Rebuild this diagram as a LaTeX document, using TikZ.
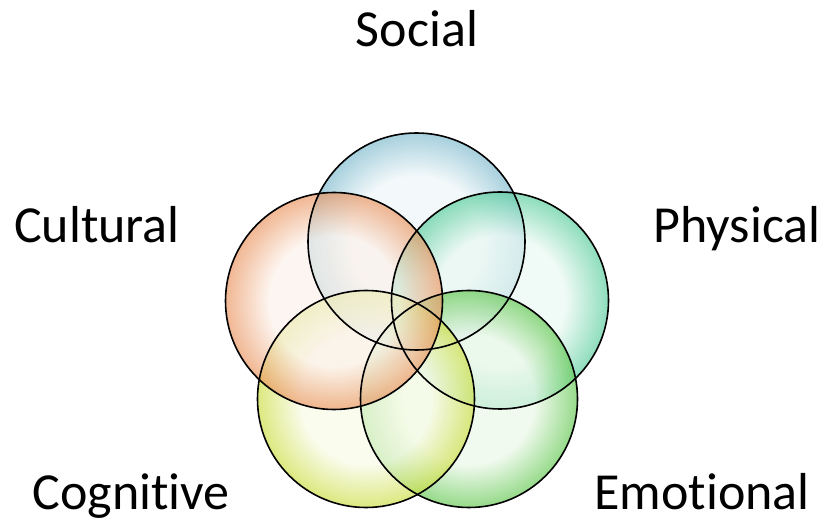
\documentclass[tikz,border=0pt]{standalone}
\usepackage{fontspec}
\setmainfont[Ligatures=NoCommon]{Carlito}

% colours of the five bubbles
\definecolor{socialcol}{HTML}{6FB2C8}
\definecolor{culturalcol}{HTML}{E8894E}
\definecolor{physicalcol}{HTML}{45C792}
\definecolor{cognitivecol}{HTML}{C6DA2E}
\definecolor{emotionalcol}{HTML}{52C23E}

% light centre, darker rim
\pgfdeclareradialshading[bubin,bubout]{bubble}{\pgfpoint{0bp}{0bp}}{%
  color(0bp)=(bubin); color(15bp)=(bubin); color(25bp)=(bubout); color(50bp)=(bubout)}

\tikzset{
  bubble/.style={circle, minimum size=217pt, inner sep=0pt,
    shading=bubble, fill opacity=0.68,
    /utils/exec={\colorlet{bubin}{#1!12}\colorlet{bubout}{#1!90}}},
  rim/.style={draw=black, line width=1.6pt},
  label/.style={anchor=base, font=\fontsize{52}{60}\selectfont}
}

\begin{document}
\begin{tikzpicture}[x=1pt, y=1pt]

        % 825 x 525 working area
        \def\width{825}
        \def\height{525}
        \useasboundingbox (0,0) rectangle (\width,\height);

        % bubbles, back to front
        \node[bubble=socialcol]    (social)    at (416.5,283.5) {};
        \node[bubble=physicalcol]  (physical)  at (500,224.5) {};
        \node[bubble=emotionalcol] (emotional) at (469,126) {};
        \node[bubble=cognitivecol] (cognitive) at (366,126) {};
        \node[bubble=culturalcol]  (cultural)  at (334,224) {};

        % black rims on top of all fills
        \foreach \b in {social,physical,emotional,cognitive,cultural} {
            \draw[rim] (\b.center) circle (108.5);
        }

        % labels round the bubbles
        \node[label] (sociallbl)    at (417,478) {Social};
        \node[label] (culturallbl)  at (97,282)  {Cultural};
        \node[label] (physicallbl)  at (737,282) {Physical};
        \node[label] (cognitivelbl) at (131,15)  {Cognitive};
        \node[label] (emotionallbl) at (702,15)  {Emotional};

    \end{tikzpicture}
\end{document}
